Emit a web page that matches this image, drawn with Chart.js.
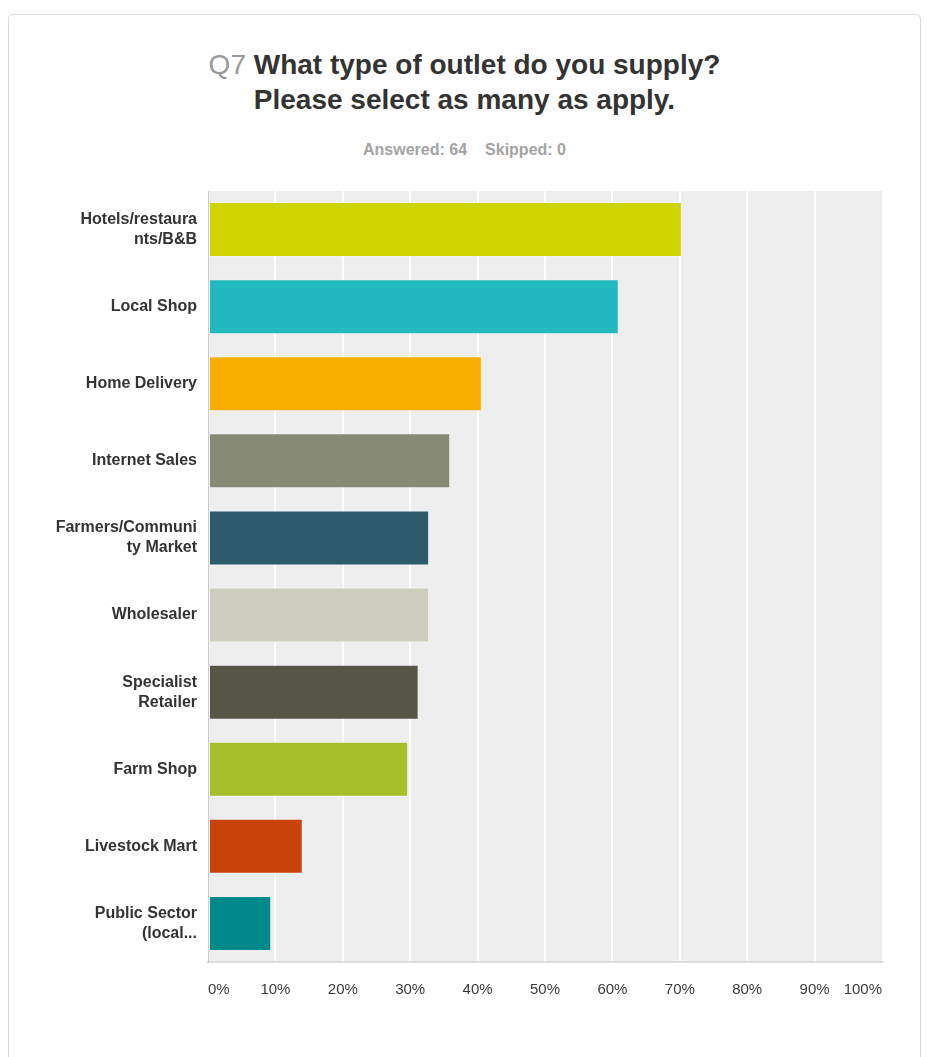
<!DOCTYPE html>
<html>
<head>
<meta charset="utf-8">
<script src="https://cdn.jsdelivr.net/npm/chart.js@4"></script>
<style>
  body { margin: 0; background: #fff; font-family: "Liberation Sans", Arial, sans-serif; }
  #card {
    position: absolute; left: 8px; top: 14px; width: 911px; height: 1100px;
    border: 1px solid #dadada; border-radius: 5px; box-shadow: 0 0 1px #e4e4e4;
  }
  #title {
    position: absolute; left: 8px; width: 913px; top: 47px;
    text-align: center; font-weight: bold; font-size: 28px; line-height: 35px; color: #333;
  }
  #title .qnum { color: #999; font-weight: normal; }
  #stats {
    position: absolute; left: 8px; width: 913px; top: 141px;
    text-align: center; font-weight: bold; font-size: 16px; color: #a3a3a3;
  }
  #stats span { margin: 0 9px; }
  #chart { position: absolute; left: 0; top: 0; }
</style>
</head>
<body>
<div id="card"></div>
<div id="title"><span class="qnum">Q7</span> What type of outlet do you supply?<br>Please select as many as apply.</div>
<div id="stats"><span>Answered: 64</span><span>Skipped: 0</span></div>
<canvas id="chart" width="927" height="1057"></canvas>
<script>
// answer choices (wrapped the way the survey tool wraps them)
const outlets = [
    ['Hotels/restaura', 'nts/B&B'],
    'Local Shop',
    'Home Delivery',
    'Internet Sales',
    ['Farmers/Communi', 'ty Market'],
    'Wholesaler',
    ['Specialist', 'Retailer'],
    'Farm Shop',
    'Livestock Mart',
    ['Public Sector', '(local...']
];

// % of the 64 respondents
const percentages = [70.31, 60.94, 40.63, 35.94, 32.81, 32.81, 31.25, 29.69, 14.06, 9.38];

const barColors = [
    '#d0d400', '#22babe', '#f7ae00', '#878a75', '#2d5b6b',
    '#cdcdc0', '#575546', '#a7bf2a', '#c8430a', '#00898b'
];

const xTicks = [0, 10, 20, 30, 40, 50, 60, 70, 80, 90, 100];

// grey plot background behind the gridlines
const plotBackground = {
    id: 'plotBackground',
    beforeDraw(chart) {
        const { ctx, chartArea: a } = chart;
        ctx.save();
        ctx.fillStyle = '#eeeeee';
        ctx.fillRect(a.left, a.top, a.right - a.left, a.bottom - a.top);
        ctx.restore();
    }
};

new Chart(document.getElementById('chart'), {
    type: 'bar',
    data: {
        labels: outlets,
        datasets: [{
            data: percentages,
            backgroundColor: barColors,
            borderColor: 'rgba(255,255,255,0.3)',
            borderWidth: 1,
            borderSkipped: false,
            categoryPercentage: 1,
            barPercentage: 0.714
        }]
    },
    options: {
        indexAxis: 'y',
        responsive: false,
        animation: false,
        layout: { padding: { top: 191, right: 45, bottom: 0, left: 0 } },
        plugins: {
            legend: { display: false },
            tooltip: { enabled: false }
        },
        scales: {
            x: {
                min: 0,
                max: 100,
                afterBuildTicks(scale) {
                    scale.ticks = xTicks.map(v => ({ value: v }));
                },
                afterFit(scale) { scale.height = 95; },
                ticks: {
                    align: 'inner',
                    padding: 19,
                    color: '#3a3a3a',
                    font: { family: '"Liberation Sans", Arial, sans-serif', size: 15 },
                    callback: v => v + '%'
                },
                grid: {
                    drawTicks: false,
                    lineWidth: 2,
                    color: ctx => (ctx.index === 0 || ctx.index === xTicks.length - 1) ? 'rgba(0,0,0,0)' : '#ffffff'
                },
                border: { display: true, color: '#dcdcdc', width: 2 }
            },
            y: {
                afterFit(scale) { scale.width = 208; },
                ticks: {
                    padding: 11,
                    color: '#333',
                    font: { family: '"Liberation Sans", Arial, sans-serif', size: 16, weight: 'bold', lineHeight: 1.25 }
                },
                grid: { display: false, drawTicks: false },
                border: { display: true, color: '#cccccc', width: 1 }
            }
        }
    },
    plugins: [plotBackground]
});
</script>
</body>
</html>
